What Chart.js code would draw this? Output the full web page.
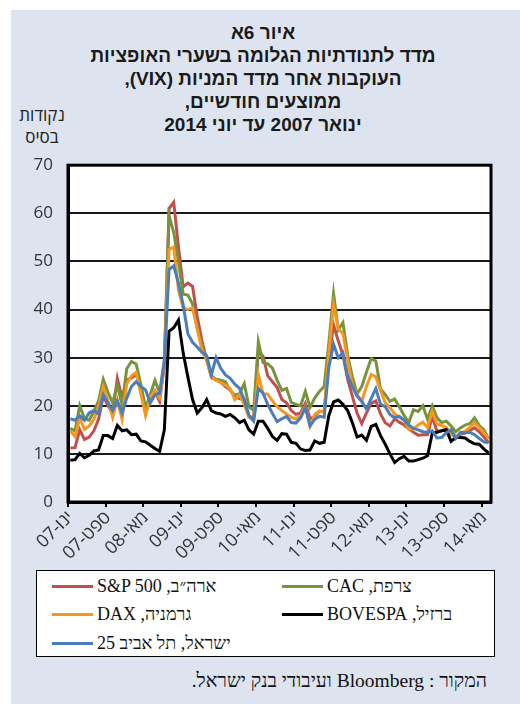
<!DOCTYPE html>
<html lang="he">
<head>
<meta charset="utf-8">
<script src="https://cdn.jsdelivr.net/npm/chart.js@4.4.1/dist/chart.umd.min.js"></script>
<style>
  html, body { margin: 0; padding: 0; background: #fff; }
  #page { position: relative; width: 520px; height: 704px; overflow: hidden; }
  #panel { position: absolute; left: 11px; top: 10px; width: 509px; height: 694px; background: #dde4f0; }
  #title { position: absolute; left: 0; top: 21px; width: 526px; text-align: center; direction: rtl;
           font: bold 19px "Liberation Sans", Arial, sans-serif; line-height: 23px; color: #1a1a1a; }
  #unit { position: absolute; left: 10px; top: 104px; width: 64px; text-align: center; direction: rtl;
          font: 17px "Open Sans", "Liberation Sans", sans-serif; line-height: 22px; color: #222; }
  #chartBox { position: absolute; left: 0; top: 140px; width: 520px; height: 430px; }
  #legend { position: absolute; left: 36px; top: 570px; width: 457px; height: 85px; background: #fff;
            border: 1.5px solid #000; }
  .item { position: absolute; height: 24px; display: flex; align-items: center; }
  .swatch { width: 41px; height: 3px; margin-right: 4px; }
  .item span { direction: rtl; unicode-bidi: isolate; font: 18px "Liberation Serif", "Times New Roman", serif; color: #111; }
  #source { position: absolute; right: 33px; top: 670px; direction: rtl;
            font: 19.5px "Liberation Serif", "Times New Roman", serif; color: #111; }
</style>
</head>
<body>
<div id="page">
  <div id="panel"></div>
  <div id="title">איור 6א<br>מדד לתנודתיות הגלומה בשערי האופציות<br>העוקבות אחר מדד המניות (VIX),<br>ממוצעים חודשיים,<br>ינואר 2007 עד יוני 2014</div>
  <div id="unit">נקודות<br>בסיס</div>
  <div id="chartBox"><canvas id="vixChart"></canvas></div>
  <div id="legend"></div>
  <div id="source">המקור : Bloomberg ועיבודי בנק ישראל.</div>
</div>
<script>
// חודשים ינואר 2007 - יוני 2014
const monthNames = ["ינו", "פבר", "מרץ", "אפר", "מאי", "יונ", "יול", "אוג", "ספט", "אוק", "נוב", "דצמ"];
const categories = [];
for (let y = 2007; y <= 2014; y++) {
    for (let m = 0; m < 12; m++) {
        if (y === 2014 && m > 5) break;
        categories.push(monthNames[m] + "-" + String(y).slice(2));
    }
}

const yTicks = [0, 10, 20, 30, 40, 50, 60, 70];

const sp500 = [
    11.2, 11.3, 15.0, 13.0, 13.5, 14.8, 17.2, 22.0, 20.0, 18.5, 25.7, 21.6, 25.3, 25.8, 26.5, 24.0, 18.5, 20.9, 23.0, 20.9,
    28.5, 61.0, 62.3, 53.0, 44.7, 45.5, 44.8, 38.5, 33.5, 29.5, 26.0, 25.3, 24.9, 24.0, 23.3, 21.9, 21.5, 21.3, 17.8, 17.5,
    31.3, 30.3, 26.2, 25.0, 23.8, 21.3, 20.6, 19.0, 18.2, 18.5, 20.5, 17.3, 17.8, 18.9, 18.7, 30.0, 36.8, 33.5, 30.5, 25.5,
    22.0, 18.5, 16.3, 18.5, 20.5, 21.0, 18.3, 16.5, 15.8, 17.3, 16.6, 16.0, 15.2, 14.5, 13.9, 14.0, 14.0, 17.8, 14.7, 14.8,
    15.1, 14.8, 13.4, 14.1, 14.3, 14.9, 15.4, 14.6, 13.5, 12.3
];
const cac = [
    15.3, 14.8, 20.0, 17.3, 17.0, 18.8, 21.0, 25.5, 22.8, 20.6, 24.3, 20.2, 27.7, 29.2, 28.7, 24.4, 19.6, 22.3, 25.3, 22.6,
    29.5, 59.5, 56.0, 50.0, 43.2, 43.0, 41.2, 36.0, 32.5, 30.0, 26.2, 25.5, 25.3, 25.0, 23.2, 22.2, 22.5, 24.6, 19.8, 19.0,
    33.3, 29.0, 28.7, 27.8, 25.3, 23.2, 23.6, 20.7, 20.3, 20.0, 23.0, 19.7, 21.6, 23.0, 24.0, 33.0, 43.3, 35.8, 37.3, 30.5,
    26.0, 22.5, 24.0, 27.0, 29.8, 29.3, 23.5, 22.3, 20.9, 21.4, 19.8, 18.0, 16.5, 19.2, 18.8, 20.0, 17.2, 20.0, 17.5, 16.5,
    16.8, 15.8, 14.6, 15.4, 16.0, 16.3, 17.5, 15.9, 15.0, 13.1
];
const dax = [
    14.8, 13.6, 17.5, 15.1, 15.8, 17.2, 19.9, 24.0, 21.0, 17.6, 21.2, 17.2, 24.6, 26.2, 27.0, 22.5, 18.0, 21.9, 23.0, 21.6,
    28.5, 52.5, 53.0, 44.0, 40.3, 40.0, 40.3, 36.0, 31.5, 29.5, 26.0, 25.3, 24.8, 24.3, 23.6, 21.3, 22.3, 20.3, 17.6, 17.0,
    26.4, 22.5, 22.4, 21.0, 19.8, 19.0, 18.3, 17.6, 17.3, 18.0, 19.8, 15.8, 18.2, 18.9, 18.7, 31.0, 41.0, 36.0, 35.0, 29.5,
    24.3, 22.3, 21.0, 24.0, 26.5, 26.0, 23.2, 20.6, 19.6, 18.3, 17.6, 17.0, 15.1, 15.2, 16.0, 16.6, 15.5, 18.8, 16.2, 15.9,
    15.5, 14.0, 13.6, 14.3, 14.7, 15.5, 16.5, 15.5, 14.4, 13.1
];
const bovespa = [
    8.7, 8.8, 10.1, 9.2, 9.7, 10.6, 10.8, 13.8, 13.8, 13.2, 15.9, 14.8, 15.0, 14.0, 14.1, 12.7, 12.5, 11.8, 11.1, 10.5,
    15.0, 35.5, 36.2, 37.8, 31.0, 26.0, 21.3, 18.5, 19.6, 21.3, 19.0, 18.5, 18.3, 17.8, 18.2, 17.5, 16.5, 17.0, 15.0, 14.1,
    16.8, 16.8, 15.3, 13.6, 12.8, 14.2, 14.1, 12.4, 12.2, 11.0, 10.7, 10.8, 12.7, 12.2, 12.4, 18.0, 20.8, 21.2, 20.3, 19.0,
    16.5, 13.5, 13.9, 12.8, 15.7, 16.1, 13.8, 12.0, 10.0, 8.2, 9.0, 9.5, 8.5, 8.5, 8.8, 9.1, 9.6, 14.3, 14.5, 14.8,
    15.0, 12.6, 13.4, 13.4, 13.3, 12.6, 12.1, 12.0, 11.0, 10.2
];
const ta25 = [
    17.3, 17.0, 17.9, 17.0, 18.5, 19.0, 18.3, 22.3, 20.6, 19.0, 21.0, 18.5, 21.6, 24.0, 25.0, 24.0, 23.3, 20.6, 22.3, 22.6,
    29.0, 48.3, 49.1, 45.5, 41.0, 35.0, 33.2, 32.2, 31.1, 30.4, 26.4, 30.0, 27.8, 26.4, 25.7, 24.5, 23.6, 21.2, 18.0, 16.8,
    23.6, 22.6, 20.3, 18.4, 16.7, 17.3, 17.8, 16.5, 16.4, 17.5, 19.6, 15.8, 17.2, 17.8, 17.6, 28.0, 32.8, 30.0, 31.0, 26.2,
    24.0, 22.0, 20.9, 19.3, 21.5, 23.6, 20.3, 19.8, 18.2, 17.5, 17.8, 17.0, 16.0, 15.3, 15.0, 14.6, 14.5, 14.8, 13.3, 13.4,
    14.4, 15.0, 13.2, 14.5, 14.4, 14.5, 14.0, 13.2, 12.5, 12.3
];

const seriesNames = ["ארה״ב, S&P 500", "צרפת, CAC", "גרמניה, DAX", "ברזיל, BOVESPA", "ישראל, תל אביב 25"];
const seriesColors = ["#c0504d", "#77933c", "#f7971e", "#000000", "#4a7ebb"];
const seriesData = [sp500, cac, dax, bovespa, ta25];
// סדר ציור: ת"א 25 למעלה
const drawOrder = [4, 3, 2, 1, 0];

const tickFont = { family: "'Open Sans', 'Liberation Sans', sans-serif", size: 17 };

// רקע לבן ומסגרת שחורה לשטח הגרף
const framePlugin = {
    id: "frame",
    beforeDraw(chart) {
        const { ctx, chartArea: a } = chart;
        ctx.save();
        ctx.fillStyle = "#fff";
        ctx.fillRect(a.left, a.top, a.right - a.left, a.bottom - a.top);
        ctx.restore();
    },
    afterDatasetsDraw(chart) {
        const { ctx, chartArea: a } = chart;
        ctx.save();
        ctx.strokeStyle = "#000";
        ctx.lineWidth = 3;
        ctx.strokeRect(a.left, a.top, a.right - a.left, a.bottom - a.top);
        ctx.restore();
    },
};

const datasets = seriesData.map((d, i) => ({
    label: seriesNames[i],
    data: d,
    borderColor: seriesColors[i],
    backgroundColor: seriesColors[i],
    borderWidth: 3,
    pointRadius: 0,
    tension: 0,
    fill: false,
    order: drawOrder[i],
}));

const ctx = document.getElementById("vixChart").getContext("2d");
const vixChart = new Chart(ctx, {
    type: "line",
    data: { labels: categories, datasets: datasets },
    plugins: [framePlugin],
    options: {
        responsive: true,
        maintainAspectRatio: false,
        animation: false,
        layout: { padding: { left: 0, top: 19, right: 29, bottom: 0 } },
        plugins: { legend: { display: false }, tooltip: { enabled: false } },
        scales: {
            x: {
                type: "category",
                offset: true,
                afterFit: (s) => { s.height = 68; },
                border: { display: true, color: "#000", width: 3 },
                grid: {
                    offset: true,
                    drawOnChartArea: false,
                    drawTicks: true,
                    tickLength: 5,
                    lineWidth: 2,
                    color: (c) => (c.index % 8 === 0 ? "#000" : "rgba(0,0,0,0)"),
                },
                ticks: {
                    autoSkip: false,
                    maxRotation: 45,
                    minRotation: 45,
                    padding: 0,
                    color: "#333",
                    font: { family: tickFont.family, size: 18 },
                    callback: function (value, index) {
                        return index % 8 === 0 ? this.getLabelForValue(value) : "";
                    },
                },
            },
            y: {
                min: yTicks[0],
                max: yTicks[yTicks.length - 1],
                afterFit: (s) => { s.width = 68; },
                afterBuildTicks: (s) => { s.ticks = yTicks.map((v) => ({ value: v })); },
                border: { display: true, color: "#000", width: 3 },
                grid: { color: "#1a1a1a", lineWidth: 2, drawTicks: false },
                ticks: { padding: 15, color: "#333", font: tickFont },
            },
        },
    },
});

// מקרא: שתי עמודות
const legendPos = [
    { left: 15, top: 3 },   // S&P
    { left: 245, top: 3 },  // CAC
    { left: 15, top: 31 },  // DAX
    { left: 245, top: 31 }, // BOVESPA
    { left: 15, top: 60 },  // TA25
];
const legendEl = document.getElementById("legend");
vixChart.data.datasets.forEach((ds, i) => {
    const item = document.createElement("div");
    item.className = "item";
    item.style.left = legendPos[i].left + "px";
    item.style.top = legendPos[i].top + "px";
    const sw = document.createElement("div");
    sw.className = "swatch";
    sw.style.background = ds.borderColor;
    const txt = document.createElement("span");
    txt.textContent = ds.label;
    item.appendChild(sw);
    item.appendChild(txt);
    legendEl.appendChild(item);
});
</script>
</body>
</html>
